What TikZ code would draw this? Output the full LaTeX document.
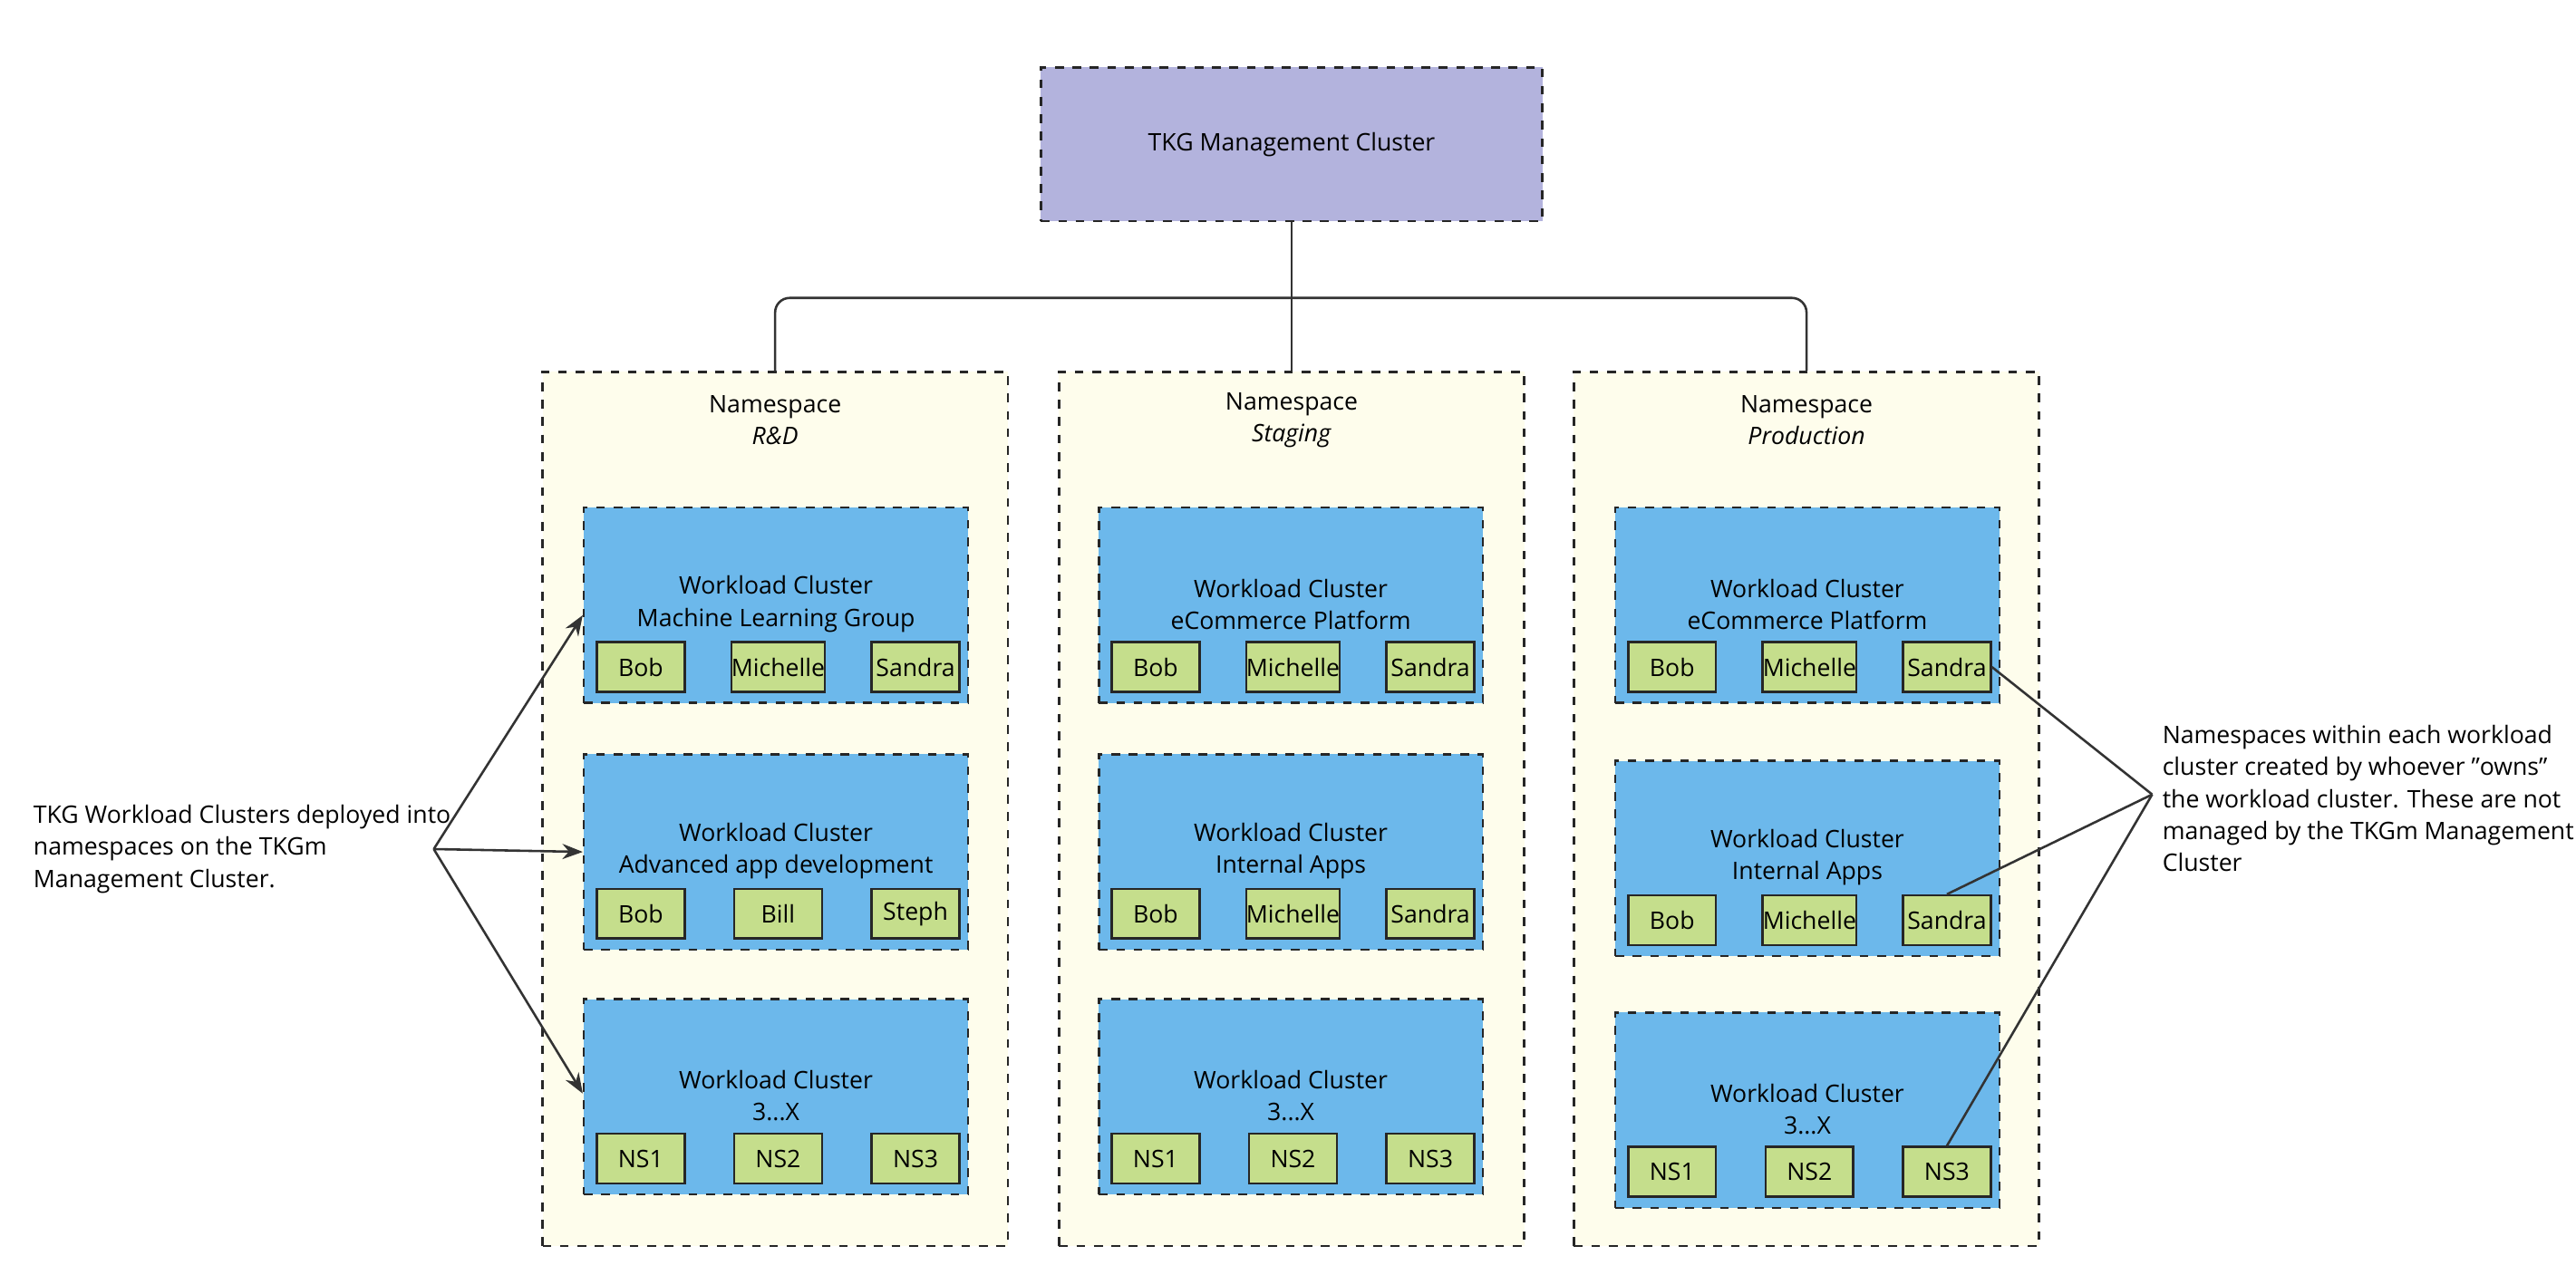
\documentclass[tikz,border=0pt]{standalone}
\usepackage{fontspec}
\setmainfont{Open Sans}
\usetikzlibrary{arrows.meta,positioning,calc}
\definecolor{mgmtfill}{HTML}{B3B3DD}
\definecolor{nsfill}{HTML}{FEFDEC}
\definecolor{wcfill}{HTML}{6CB8EB}
\definecolor{userfill}{HTML}{C5DE8C}
\tikzset{
box/.style={draw=black!85,dashed,thick,anchor=north west,inner sep=0pt},
user/.style={draw=black!85,thick,fill=userfill,minimum width=53\unit,minimum height=30\unit,inner sep=0pt},
arr/.style={->,>={Stealth[length=7pt]},thick,black!80},
link/.style={thick,black!80},
}
\newcommand{\unit}{*0.02cm}
\newcommand{\restx}{3...X}
\tikzstyle{every node}=[font=\fontsize{8.3}{11}\selectfont]

\begin{document}
\begin{tikzpicture}[x=0.02cm,y=-0.02cm]
    \useasboundingbox (0,0) rectangle (1556,770);

    \node[box,fill=mgmtfill,minimum width=303\unit,minimum height=93\unit] (mgmt) at (628,40) {};
    \node at (mgmt.center) {TKG Management Cluster};

    % namespaces
    \foreach \i/\x/\nm in {1/327/R\&D,2/639/Staging,3/950/Production} {
        \node[box,fill=nsfill,minimum width=281\unit,minimum height=528\unit] (ns\i) at (\x,224) {};
        \node[align=center] at ($(ns\i.north)+(0,30)$) {Namespace\\\textit{\nm}};
    }

    \draw[link] (mgmt.south) -- (ns2.north);
    \draw[link,rounded corners=5pt] (ns1.north) -- ($(ns1.north)+(0,-44)$) -- ($(ns3.north)+(0,-44)$) -- (ns3.north);

    % workload clusters
    \foreach \i/\x/\ya/\yb/\yc in {1/352/306/455/603,2/663/306/455/603,3/975/306/459/611} {
        \foreach \j/\y in {1/\ya,2/\yb,3/\yc} {
            \node[box,fill=wcfill,minimum width=232\unit,minimum height=118\unit] (wc\i\j) at (\x,\y) {};
        }
    }
    \foreach \i/\ta/\tb in {1/Machine Learning Group/Advanced app development,
        2/eCommerce Platform/Internal Apps,3/eCommerce Platform/Internal Apps} {
        \foreach \j/\t in {1/\ta,2/\tb,3/\restx} {
            \node[align=center] at ($(wc\i\j.north)+(0,59)$) {Workload Cluster\\\t};
        }
    }

    % users / namespaces inside
    \foreach \i/\j/\ua/\ub/\uc in {1/1/Bob/Michelle/Sandra,1/2/Bob/Bill/Steph,1/3/NS1/NS2/NS3,
        2/1/Bob/Michelle/Sandra,2/2/Bob/Michelle/Sandra,2/3/NS1/NS2/NS3,
        3/1/Bob/Michelle/Sandra,3/2/Bob/Michelle/Sandra,3/3/NS1/NS2/NS3} {
        \node[user] (u\i\j a) at ($(wc\i\j.north west)+(35,97)$) {\ua};
        \node[user] (u\i\j b) at ($(wc\i\j.north west)+(118,97)$) {\ub};
        \node[user] (u\i\j c) at ($(wc\i\j.north west)+(201,97)$) {\uc};
    }

    % notes
    \node[align=left,anchor=west] (left) at (14,513) {TKG Workload Clusters deployed into\\namespaces on the TKGm\\Management Cluster.};
    \coordinate (lsrc) at (262,513);
    \draw[arr] (lsrc) -- ($(wc11.west)+(0,6)$);
    \draw[arr] (lsrc) -- (wc12.west);
    \draw[arr] (lsrc) -- ($(wc13.west)+(0,-2)$);

    \node[align=left,anchor=north west] (right) at (1300,432) {Namespaces within each workload\\cluster created by whoever "owns"\\the workload cluster. These are not\\managed by the TKGm Management\\Cluster};
    \coordinate (rsrc) at (1300,480);
    \draw[link] (rsrc) -- (u31c.east);
    \draw[link] (rsrc) -- (u32c.north);
    \draw[link] (rsrc) -- (u33c.north);
\end{tikzpicture}
\end{document}
